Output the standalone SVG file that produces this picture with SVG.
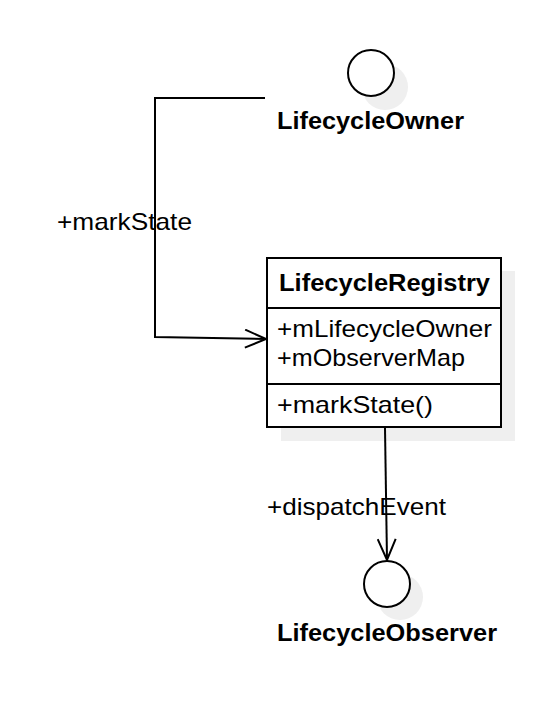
<svg xmlns="http://www.w3.org/2000/svg" width="550" height="708" viewBox="0 0 550 708">
<style>
text{font-family:"Liberation Sans",Arial,sans-serif;font-size:24px;fill:#000}
.b{font-weight:bold}
.sh{fill:#efefef;stroke:none}
.shape{fill:#fff;stroke:#000;stroke-width:2}
.edge{fill:none;stroke:#000;stroke-width:2}
</style>
<defs>
<marker id="open" viewBox="0 0 24 20" refX="22" refY="10" markerWidth="24" markerHeight="20" markerUnits="userSpaceOnUse" orient="auto">
<path d="M1,1 L22,10 L1,19" fill="none" stroke="#000" stroke-width="2"/>
</marker>
</defs>
<rect width="550" height="708" fill="#fff"/>
<g id="LifecycleOwner">
<circle class="sh" cx="385" cy="87" r="23"/>
<circle class="shape" cx="371" cy="73" r="23"/>
<text class="b" x="277" y="129" textLength="187" lengthAdjust="spacingAndGlyphs">LifecycleOwner</text>
</g>
<g id="LifecycleRegistry">
<rect class="sh" x="281" y="271" width="234" height="170"/>
<rect class="shape" x="267" y="258" width="234" height="169"/>
<line class="edge" x1="267" y1="308" x2="501" y2="308"/>
<line class="edge" x1="267" y1="384" x2="501" y2="384"/>
<text class="b" x="279" y="291" textLength="211" lengthAdjust="spacingAndGlyphs">LifecycleRegistry</text>
<text x="277" y="337" textLength="215" lengthAdjust="spacingAndGlyphs">+mLifecycleOwner</text>
<text x="277" y="366" textLength="188" lengthAdjust="spacingAndGlyphs">+mObserverMap</text>
<text x="277" y="413" textLength="156" lengthAdjust="spacingAndGlyphs">+markState()</text>
</g>
<g id="LifecycleObserver">
<circle class="sh" cx="400" cy="597" r="23"/>
<circle class="shape" cx="387" cy="584" r="23"/>
<text class="b" x="277" y="641" textLength="220" lengthAdjust="spacingAndGlyphs">LifecycleObserver</text>
</g>
<g id="connectors">
<path class="edge" d="M265,98 L155,98 L155,337 L266,339" marker-end="url(#open)"/>
<text x="57" y="230" textLength="135" lengthAdjust="spacingAndGlyphs">+markState</text>
<path class="edge" d="M385,428 L387,560" marker-end="url(#open)"/>
<text x="267" y="515" textLength="179" lengthAdjust="spacingAndGlyphs">+dispatchEvent</text>
</g>
</svg>
